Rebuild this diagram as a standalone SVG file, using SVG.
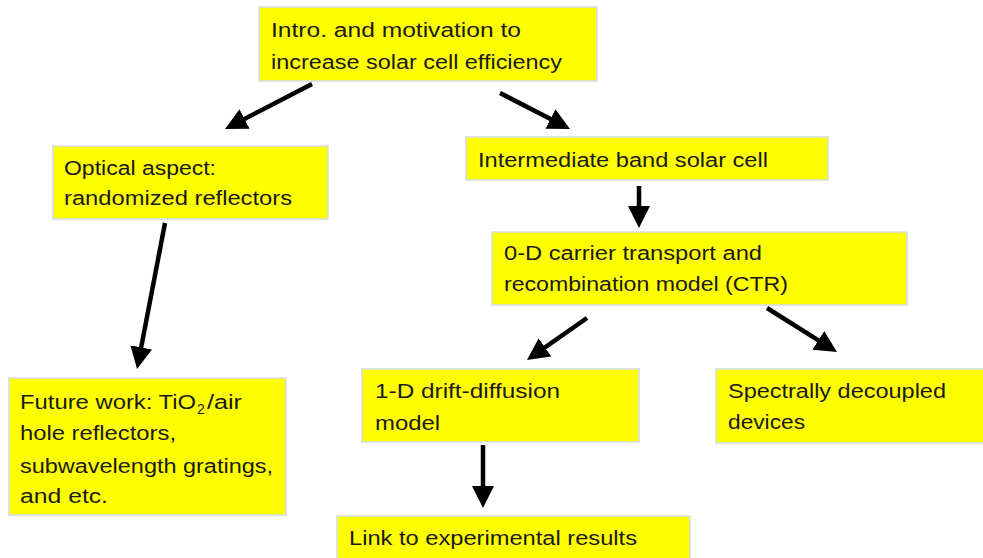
<svg xmlns="http://www.w3.org/2000/svg" width="983" height="558" viewBox="0 0 983 558">
<style>
.box{fill:#ffff00;stroke:#cfdde6;stroke-width:1.5}
.t{font-family:"Liberation Sans",Arial,sans-serif;font-size:20px;fill:#1a1a1a}
.sub{font-size:14px}
.c{stroke:#000;stroke-width:4.5;fill:none;marker-end:url(#ah)}
</style>
<defs>
<marker id="ah" viewBox="0 0 22 22" refX="10" refY="11" markerUnits="userSpaceOnUse" markerWidth="22" markerHeight="22" orient="auto">
<path d="M0,0 L22,11 L0,22 z" fill="#000"/>
</marker>
</defs>
<rect width="983" height="558" fill="#fff"/>
<g id="intro">
<rect class="box" x="259" y="7" width="338" height="74"/>
<text class="t" x="271" y="37" textLength="250" lengthAdjust="spacingAndGlyphs">Intro. and motivation to</text>
<text class="t" x="271" y="69" textLength="291" lengthAdjust="spacingAndGlyphs">increase solar cell efficiency</text>
</g>
<g id="optical">
<rect class="box" x="53" y="146" width="275" height="73"/>
<text class="t" x="64" y="175" textLength="152" lengthAdjust="spacingAndGlyphs">Optical aspect:</text>
<text class="t" x="64" y="205" textLength="228" lengthAdjust="spacingAndGlyphs">randomized reflectors</text>
</g>
<g id="ibsc">
<rect class="box" x="466" y="137" width="362" height="43"/>
<text class="t" x="478" y="167" textLength="290" lengthAdjust="spacingAndGlyphs">Intermediate band solar cell</text>
</g>
<g id="ctr">
<rect class="box" x="492" y="232" width="415" height="73"/>
<text class="t" x="504" y="260" textLength="258" lengthAdjust="spacingAndGlyphs">0-D carrier transport and</text>
<text class="t" x="504" y="291" textLength="284" lengthAdjust="spacingAndGlyphs">recombination model (CTR)</text>
</g>
<g id="future">
<rect class="box" x="9" y="378" width="277" height="137"/>
<text class="t" x="20" y="409" textLength="176" lengthAdjust="spacingAndGlyphs">Future work: TiO</text>
<text class="t sub" x="197" y="414">2</text>
<text class="t" x="207" y="409" textLength="35" lengthAdjust="spacingAndGlyphs">/air</text>
<text class="t" x="20" y="440" textLength="156" lengthAdjust="spacingAndGlyphs">hole reflectors,</text>
<text class="t" x="20" y="473" textLength="253" lengthAdjust="spacingAndGlyphs">subwavelength gratings,</text>
<text class="t" x="20" y="503" textLength="88" lengthAdjust="spacingAndGlyphs">and etc.</text>
</g>
<g id="dd">
<rect class="box" x="362" y="369" width="277" height="73"/>
<text class="t" x="375" y="398" textLength="185" lengthAdjust="spacingAndGlyphs">1-D drift-diffusion</text>
<text class="t" x="375" y="430" textLength="65" lengthAdjust="spacingAndGlyphs">model</text>
</g>
<g id="spectral">
<rect class="box" x="716" y="369" width="270" height="74"/>
<text class="t" x="728" y="398" textLength="218" lengthAdjust="spacingAndGlyphs">Spectrally decoupled</text>
<text class="t" x="728" y="429" textLength="77" lengthAdjust="spacingAndGlyphs">devices</text>
</g>
<g id="link">
<rect class="box" x="337" y="516" width="353" height="46"/>
<text class="t" x="349" y="545" textLength="288" lengthAdjust="spacingAndGlyphs">Link to experimental results</text>
</g>
<g id="connectors">
<line class="c" x1="312" y1="84" x2="235.7" y2="123.5"/>
<line class="c" x1="500" y1="93" x2="559.3" y2="123.5"/>
<line class="c" x1="639" y1="186" x2="639" y2="216"/>
<line class="c" x1="165" y1="223" x2="139.3" y2="357.2"/>
<line class="c" x1="587" y1="318" x2="536.8" y2="353.1"/>
<line class="c" x1="767" y1="308" x2="826.8" y2="345.6"/>
<line class="c" x1="483" y1="445" x2="483" y2="496"/>
</g>
</svg>
